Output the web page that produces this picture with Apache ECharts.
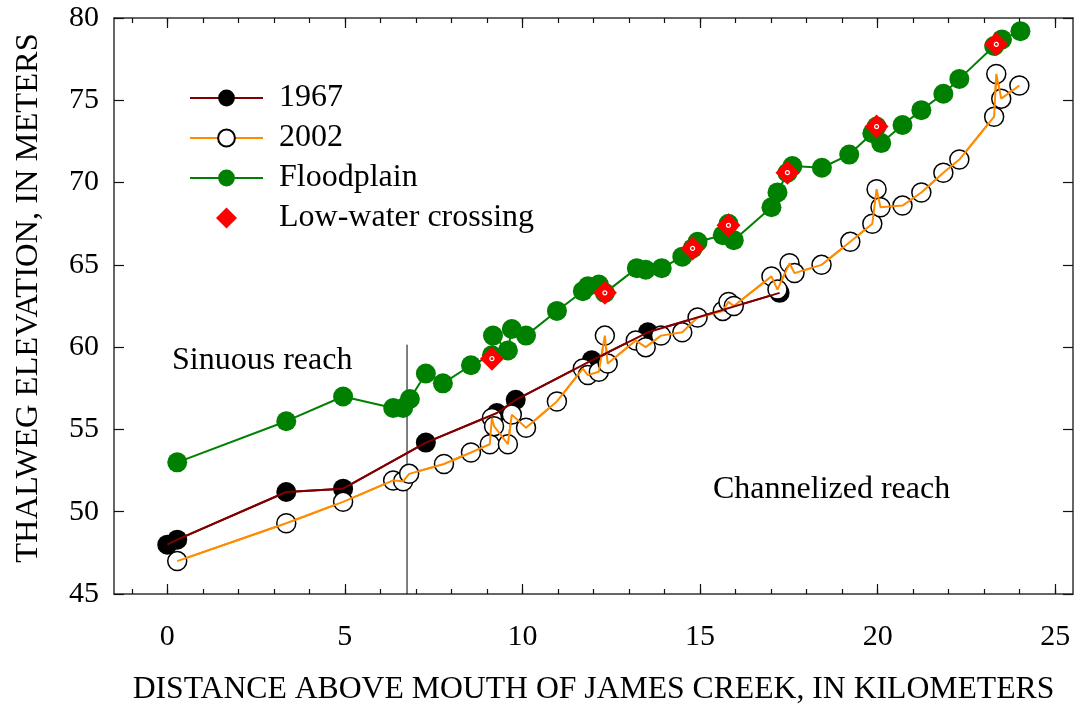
<!DOCTYPE html>
<html>
<head>
<meta charset="utf-8">
<script src="https://cdn.jsdelivr.net/npm/echarts@6/dist/echarts.min.js"></script>
<style>
html, body { margin: 0; padding: 0; background: #fff; }
#showChart { width: 1076px; height: 708px; }
</style>
</head>
<body>
<div id="showChart"></div>
<script>
// distance above mouth (km), thalweg elevation (m)
var survey1967 = [[0, 48.0], [0.28, 48.3], [3.35, 51.2], [4.95, 51.4], [7.28, 54.2], [9.28, 56.0],
    [9.81, 56.8], [11.95, 59.2], [13.53, 60.9], [17.24, 63.3]];

var survey2002 = [[0.28, 47.0], [3.35, 49.3], [4.95, 50.6], [6.36, 51.9], [6.64, 51.85], [6.81, 52.3],
    [7.79, 52.9], [8.55, 53.6], [9.08, 54.1], [9.14, 55.7], [9.2, 55.2], [9.59, 54.1], [9.7, 55.9],
    [10.1, 55.1], [10.97, 56.7], [11.7, 58.7], [11.84, 58.3], [12.15, 58.5], [12.32, 60.7], [12.4, 59.0],
    [13.19, 60.4], [13.47, 60.0], [13.9, 60.7], [14.5, 60.9], [14.93, 61.8], [15.64, 62.2], [15.8, 62.75],
    [15.95, 62.5], [17.01, 64.3], [17.18, 63.5], [17.52, 65.1], [17.66, 64.5], [18.42, 65.0], [19.23, 66.4],
    [19.85, 67.5], [19.97, 69.6], [20.08, 68.5], [20.7, 68.6], [21.23, 69.4], [21.85, 70.6], [22.3, 71.4],
    [23.28, 74.0], [23.34, 76.6], [23.48, 75.1], [23.99, 75.9]];

var floodplain = [[0.28, 53.0], [3.35, 55.5], [4.95, 57.0], [6.36, 56.3], [6.64, 56.3], [6.83, 56.85],
    [7.28, 58.4], [7.76, 57.8], [8.55, 58.9], [9.14, 59.5], [9.17, 60.7], [9.59, 59.8], [9.7, 61.1],
    [10.1, 60.7], [10.97, 62.2], [11.7, 63.4], [11.84, 63.7], [12.15, 63.8], [12.32, 63.3], [13.22, 64.8],
    [13.47, 64.7], [13.92, 64.8], [14.5, 65.5], [14.79, 66.0], [14.93, 66.4], [15.64, 66.8], [15.8, 67.5],
    [15.95, 66.5], [17.01, 68.5], [17.18, 69.4], [17.46, 70.6], [17.6, 71.0], [18.43, 70.9], [19.2, 71.7],
    [19.85, 73.0], [19.97, 73.4], [20.1, 72.4], [20.7, 73.5], [21.23, 74.4], [21.85, 75.4], [22.3, 76.3],
    [23.28, 78.3], [23.5, 78.7], [24.02, 79.2]];

var lowWater = [[9.14, 59.3], [12.32, 63.3], [14.79, 66.0], [15.8, 67.4], [17.46, 70.6], [19.97, 73.4], [23.34, 78.4]];

var divider = [[6.75, 45], [6.75, 60.15]];

var majorTicks = [0, 5, 10, 15, 20, 25];
var minorTicks = [-1, 0, 1, 2, 3, 4, 5, 6, 7, 8, 9, 10, 11, 12, 13, 14, 15, 16, 17, 18, 19, 20, 21, 22, 23, 24, 25];

var FONT = 'Liberation Serif';
var AXIS_COLOR = '#333';

function xAxisDef(pos, ticks, len, showLine, showLabel) {
    return {
        type: 'value',
        position: pos,
        min: -1.5,
        max: 25.5,
        axisLine: { show: showLine, onZero: false, lineStyle: { color: AXIS_COLOR, width: 1.5 } },
        axisTick: { show: true, inside: true, length: len, customValues: ticks, lineStyle: { color: '#111', width: 1.2 } },
        axisLabel: { show: showLabel, customValues: majorTicks, color: '#000', fontFamily: FONT, fontSize: 30, margin: 28 },
        splitLine: { show: false }
    };
}

function yAxisDef(pos, showLabel) {
    return {
        type: 'value',
        position: pos,
        min: 45,
        max: 80,
        interval: 5,
        axisLine: { show: true, onZero: false, lineStyle: { color: AXIS_COLOR, width: 1.5 } },
        axisTick: { inside: true, length: 10, lineStyle: { color: '#111', width: 1.2 } },
        axisLabel: { show: showLabel, color: '#000', fontFamily: FONT, fontSize: 30, margin: 15 },
        splitLine: { show: false }
    };
}

function showChart() {
    var dom = document.getElementById('showChart');
    var myChart = echarts.init(dom);

    var xMain = xAxisDef('bottom', majorTicks, 10, true, true);
    xMain.name = 'DISTANCE ABOVE MOUTH OF JAMES CREEK, IN KILOMETERS';
    xMain.nameLocation = 'middle';
    xMain.nameGap = 80;
    xMain.nameTextStyle = { color: '#000', fontFamily: FONT, fontSize: 31.7 };

    var yMain = yAxisDef('left', true);
    yMain.name = 'THALWEG ELEVATION, IN METERS';
    yMain.nameLocation = 'middle';
    yMain.nameGap = 69;
    yMain.nameTextStyle = { color: '#000', fontFamily: FONT, fontSize: 32.5, padding: [0, 0, 0, 16] };

    option = {
        animation: false,
        backgroundColor: '#fff',
        grid: { left: 114, right: 3, top: 18, bottom: 114, outerBoundsMode: 'none', containLabel: false },
        legend: {
            orient: 'vertical',
            left: 184,
            top: 76,
            itemWidth: 73,
            itemHeight: 21,
            itemGap: 6,
            symbolKeepAspect: true,
            textStyle: { color: '#000', fontFamily: FONT, fontSize: 32, lineHeight: 34, padding: [0, 0, 0, 11] },
            data: [
                { name: '1967' },
                { name: '2002' },
                { name: 'Floodplain' },
                { name: 'Low-water crossing', icon: 'path://M10,0 L20,10 L10,20 L0,10 Z' }
            ]
        },
        xAxis: [
            xMain,
            xAxisDef('bottom', minorTicks, 5, false, false),
            xAxisDef('top', majorTicks, 10, true, false),
            xAxisDef('top', minorTicks, 5, false, false)
        ],
        yAxis: [yMain, yAxisDef('right', false)],
        graphic: [
            { type: 'text', left: 172, top: 345, style: { text: 'Sinuous reach', fill: '#000', font: '32px "Liberation Serif"' } },
            { type: 'text', left: 713, top: 474, style: { text: 'Channelized reach', fill: '#000', font: '32px "Liberation Serif"' } }
        ],
        series: [{
            name: 'divider',
            type: 'line',
            data: divider,
            showSymbol: false,
            silent: true,
            lineStyle: { color: '#000', width: 1 },
            z: 1
        }, {
            name: 'Floodplain',
            type: 'line',
            data: floodplain,
            symbol: 'circle',
            symbolSize: 20,
            lineStyle: { color: '#008000', width: 2 },
            itemStyle: { color: '#008000' },
            z: 2
        }, {
            name: 'Low-water crossing',
            type: 'scatter',
            data: lowWater,
            symbol: 'diamond',
            symbolSize: 24,
            itemStyle: { color: '#ff0000', opacity: 1 },
            z: 3
        }, {
            name: 'lwcDot',
            type: 'scatter',
            data: lowWater,
            symbol: 'circle',
            symbolSize: 4,
            silent: true,
            itemStyle: { color: '#ff0000', borderColor: '#fff', borderWidth: 1.2, opacity: 1 },
            z: 4
        }, {
            name: '1967',
            type: 'line',
            data: survey1967,
            symbol: 'circle',
            symbolSize: 20,
            lineStyle: { color: '#800000', width: 2 },
            itemStyle: { color: '#000' },
            z: 5
        }, {
            name: '2002',
            type: 'line',
            data: survey2002,
            symbol: 'circle',
            symbolSize: 19,
            lineStyle: { color: '#ff8c00', width: 2 },
            itemStyle: { color: '#fff', borderColor: '#000', borderWidth: 1.5 },
            z: 6
        }, {
            name: '2002line',
            type: 'line',
            data: survey2002,
            showSymbol: false,
            silent: true,
            lineStyle: { color: '#ff8c00', width: 2 },
            z: 7
        }, {
            name: '1967line',
            type: 'line',
            data: survey1967,
            showSymbol: false,
            silent: true,
            lineStyle: { color: '#800000', width: 2 },
            z: 7
        }]
    };

    if (option && typeof option === 'object') {
        myChart.setOption(option, true);
    }

    window.addEventListener('resize', function () {
        myChart.resize();
    });
}

showChart();
</script>
</body>
</html>
